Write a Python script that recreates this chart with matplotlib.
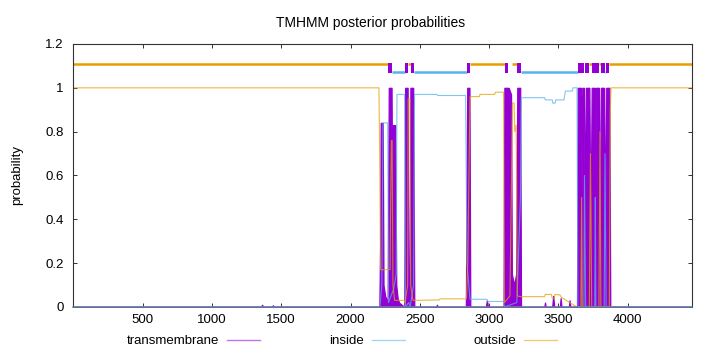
import matplotlib
matplotlib.use("Agg")
import matplotlib.pyplot as plt
from matplotlib.lines import Line2D

plt.rcParams['font.family'] = ['Liberation Sans', 'DejaVu Sans']
plt.rcParams['font.size'] = 9.5

seq_len = 4463

# posterior probability curves: (residue, probability)
tm_points = [(1, 0), (1355, 0), (1362, 0.01), (1370, 0), (1434, 0), (1440, 0.008), (1446, 0),
             (2208, 0), (2214, 0.3), (2218, 0.84), (2232, 0.84), (2238, 0.1), (2250, 0.05),
             (2268, 0.02), (2276, 1.0), (2296, 1.0), (2302, 0.3), (2306, 0.83), (2322, 0.83),
             (2330, 0.1), (2340, 0.04), (2350, 0.02), (2388, 0.0), (2394, 1.0), (2412, 1.0),
             (2418, 0.1), (2426, 0.05), (2432, 1.0), (2452, 1.0), (2460, 0.0),
             (2618, 0), (2623, 0.01), (2628, 0),
             (2832, 0), (2838, 0.6), (2842, 1.0), (2858, 1.0), (2864, 0),
             (2976, 0), (2984, 0.03), (2992, 0),
             (3104, 0), (3110, 1.0), (3135, 1.0), (3138, 0.7), (3141, 1.0), (3158, 0.97),
             (3164, 0.15), (3180, 0.1), (3195, 0.15), (3203, 1.0), (3224, 1.0), (3230, 0),
             (3398, 0), (3403, 0.02), (3408, 0), (3455, 0), (3462, 0.05), (3470, 0),
             (3510, 0), (3516, 0.04), (3522, 0), (3575, 0), (3580, 0.03), (3586, 0),
             (3634, 0), (3639, 1.0), (3662, 1.0), (3667, 0.5), (3672, 1.0), (3684, 1.0),
             (3690, 0.4), (3698, 1.0), (3723, 1.0), (3731, 0.3), (3740, 1.0), (3761, 1.0),
             (3766, 0.5), (3770, 1.0), (3792, 1.0), (3800, 0.2), (3806, 1.0), (3830, 1.0),
             (3838, 0.3), (3845, 1.0), (3867, 1.0), (3874, 0), (4463, 0)]

in_points = [(1, 0), (2212, 0), (2226, 0.1), (2234, 0.84), (2268, 0.84), (2274, 0.02),
             (2310, 0.08), (2330, 0.15), (2335, 0.97), (2390, 0.97), (2396, 0.0), (2420, 0.02),
             (2430, 0.0), (2455, 0.1), (2462, 0.97), (2623, 0.97), (2628, 0.965), (2830, 0.965),
             (2840, 0.2), (2862, 0.035), (2984, 0.035), (2990, 0.025), (3104, 0.025), (3110, 0.0),
             (3200, 0.02), (3226, 0.5), (3232, 0.955), (3400, 0.955), (3405, 0.945), (3455, 0.945),
             (3460, 0.93), (3475, 0.93), (3480, 0.945), (3540, 0.945), (3550, 0.985), (3600, 0.985),
             (3605, 1.0), (3634, 1.0), (3640, 0.0), (3684, 0.0), (3688, 0.6), (3696, 0.0),
             (3762, 0.0), (3766, 0.5), (3770, 0.0), (3830, 0.0), (3836, 0.7), (3844, 0.0),
             (4463, 0.0)]

out_points = [(1, 1.0), (2205, 1.0),
              (2212, 0.6), (2216, 0.17), (2285, 0.17), (2290, 0.5), (2295, 0.76), (2300, 0.76),
              (2306, 0.1), (2318, 0.03), (2388, 0.03), (2394, 0.02), (2412, 0.1), (2416, 0.95),
              (2428, 0.95), (2434, 0.1), (2450, 0.03), (2640, 0.032), (2645, 0.037), (2836, 0.037),
              (2846, 0.2), (2862, 0.96), (2930, 0.96), (2934, 0.97), (3040, 0.97), (3045, 0.98),
              (3104, 0.98), (3110, 0.02), (3150, 0.05), (3162, 0.6), (3168, 0.93), (3180, 0.93),
              (3185, 0.8), (3195, 0.83), (3203, 0.05), (3228, 0.047), (3400, 0.047), (3405, 0.057),
              (3450, 0.057), (3455, 0.04), (3470, 0.04), (3475, 0.057), (3510, 0.055), (3520, 0.045),
              (3580, 0.02), (3634, 0.0), (3662, 0.0), (3667, 0.5), (3672, 0.0), (3723, 0.0),
              (3731, 0.7), (3740, 0.0), (3792, 0.0), (3800, 0.8), (3806, 0.0), (3867, 0.0),
              (3874, 0.9), (3880, 1.0), (4463, 1.0)]

# predicted topology drawn above the curves: (start, end)
outside_segs = [(1, 2272), (2416, 2434), (2864, 3114), (3167, 3201), (3722, 3740),
                (3794, 3805), (3867, 4463)]
inside_segs = [(2301, 2392), (2457, 2842), (3227, 3639), (3836, 3845)]
tm_segs = [(2272, 2301), (2392, 2416), (2434, 2457), (2842, 2864), (3114, 3138),
           (3201, 3227), (3639, 3660), (3665, 3684), (3693, 3722), (3740, 3761),
           (3766, 3794), (3805, 3836), (3845, 3867)]

xticks = [500, 1000, 1500, 2000, 2500, 3000, 3500, 4000]
yticks = [0, 0.2, 0.4, 0.6, 0.8, 1, 1.2]
ytick_labels = ['0', '0.2', '0.4', '0.6', '0.8', '1', '1.2']

c_tm = '#9400D3'
c_in = '#56B4E9'
c_out = '#E69F00'

fig = plt.figure(figsize=(7.2, 3.52), dpi=100)
ax = fig.add_axes([0.102, 0.128, 0.859, 0.747])

tx, ty = zip(*tm_points)
ax.fill_between(tx, 0, ty, color=c_tm, lw=0.9, zorder=1)
ix, iy = zip(*in_points)
ax.plot(ix, iy, color=c_in, lw=0.8, alpha=0.75, zorder=2)
ox, oy = zip(*out_points)
ax.plot(ox, oy, color=c_out, lw=0.8, alpha=0.75, zorder=2)

# topology bars
ax.hlines([1.11] * len(outside_segs), [s for s, e in outside_segs], [e for s, e in outside_segs],
          color=c_out, lw=1.8, zorder=3)
ax.hlines([1.073] * len(inside_segs), [s for s, e in inside_segs], [e for s, e in inside_segs],
          color=c_in, lw=1.8, zorder=3)
ax.broken_barh([(s, e - s) for s, e in tm_segs], (1.068, 0.046), color=c_tm, lw=0, zorder=4)

ax.set_xlim(1, seq_len)
ax.set_ylim(0, 1.2)
ax.set_xticks(xticks)
ax.set_yticks(yticks)
ax.set_yticklabels(ytick_labels)
ax.tick_params(direction='in', top=True, right=True, length=3, width=0.7, color='#333333')
ax.tick_params(axis='x', pad=5)
ax.tick_params(axis='y', pad=7)
for sp in ax.spines.values():
    sp.set_color('#333333')
    sp.set_linewidth(0.8)
    sp.set_zorder(5)
ax.spines['bottom'].set_color('#62869a')
ax.spines['bottom'].set_linewidth(1.1)

ax.set_ylabel('probability', labelpad=16)
ax.set_title('TMHMM posterior probabilities', pad=12, fontsize=10, x=0.481)

handles = [Line2D([], [], color=c_tm, lw=1.0, alpha=0.55),
           Line2D([], [], color=c_in, lw=1.0, alpha=0.55),
           Line2D([], [], color=c_out, lw=1.0, alpha=0.55)]
fig.legend(handles, ['transmembrane', 'inside', 'outside'], loc='center',
           bbox_to_anchor=(0.475, 0.031), ncol=3, frameon=False, markerfirst=False,
           handlelength=2.5, handletextpad=0.6, columnspacing=5.2)

fig.savefig('out.png', dpi=100)
